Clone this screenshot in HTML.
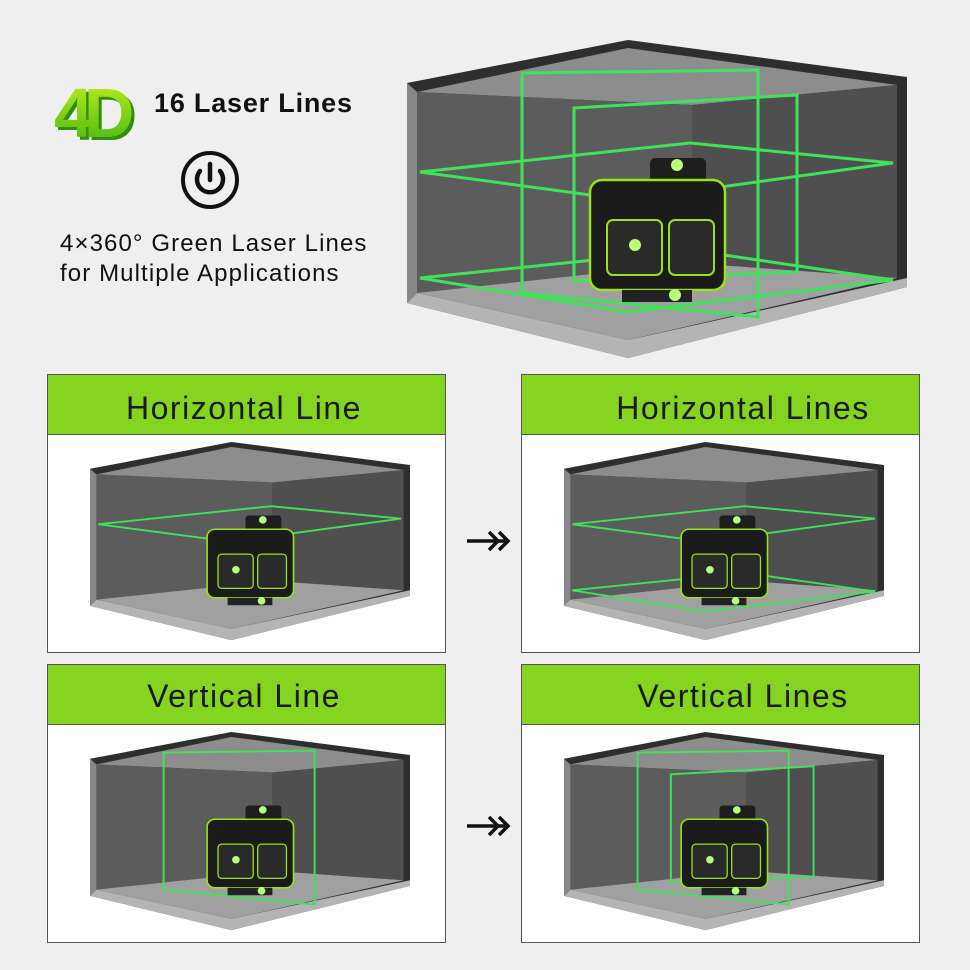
<!DOCTYPE html>
<html><head><meta charset="utf-8"><style>
html,body{margin:0;padding:0;background:#efefef;}
svg{display:block}
</style></head><body>
<svg width="970" height="970" viewBox="0 0 970 970" xmlns="http://www.w3.org/2000/svg" font-family="Liberation Sans, sans-serif">
<defs>
<linearGradient id="g4d" x1="0" y1="0" x2="0" y2="1"><stop offset="0" stop-color="#c8f020"/><stop offset="1" stop-color="#3fb40f"/></linearGradient>
<g id="room">
  <polygon points="0,43 221,0 500,37 500,247 221,318 0,263" fill="#2e2e2e"/>
  <polygon points="10,52 221,8 490,45 285,65" fill="#8d8d8d"/>
  <polygon points="10,52 285,65 285,223 10,253" fill="#5c5c5c"/>
  <polygon points="285,65 490,45 490,238 285,223" fill="#4f4f4f"/>
  <polygon points="10,253 285,223 490,238 221,300" fill="#a0a0a0"/>
  <polygon points="0,263 221,318 500,247 500,238 221,300 10,253" fill="#b4b4b4"/>
  <polygon points="0,43 10,52 10,253 0,263" fill="#888"/>
</g>
<g id="dev">
  <rect x="243" y="118" width="56" height="30" rx="5" fill="#1e1e1e"/>
  <rect x="183" y="140" width="135" height="110" rx="12" fill="#1b1b1b" stroke="#9be21a" stroke-width="2.5"/>
  <rect x="200" y="180" width="55" height="55" rx="6" fill="#2a2a2a" stroke="#9be21a" stroke-width="2"/>
  <rect x="262" y="180" width="45" height="55" rx="6" fill="#2a2a2a" stroke="#9be21a" stroke-width="2"/>
  <rect x="215" y="250" width="70" height="12" fill="#222"/>
  <circle cx="270" cy="125" r="6" fill="#b6ff7a"/>
  <circle cx="228" cy="205" r="6" fill="#b6ff7a"/>
  <circle cx="268" cy="255" r="6" fill="#b6ff7a"/>
</g>
<g id="hup" fill="none" stroke="#3fe35a" stroke-width="3"><polygon points="13,132 283,103 486,123 220,160"/></g>
<g id="hlo" fill="none" stroke="#3fe35a" stroke-width="3"><polygon points="13,238 283,210 486,240 220,272"/></g>
<g id="v1" fill="none" stroke="#3fe35a" stroke-width="3"><polygon points="115,33 351,30 351,277 115,253"/></g>
<g id="v2" fill="none" stroke="#3fe35a" stroke-width="3"><polygon points="167,68 390,55 390,232 167,241"/></g>
<g id="arr" fill="none" stroke="#111" stroke-width="3.5"><line x1="0" y1="0" x2="38" y2="0"/><polyline points="22,-9 31,0 22,9"/><polyline points="32,-9 41,0 32,9"/></g>
</defs>

<!-- top left -->
<text x="57" y="140" font-size="70" font-weight="bold" fill="#2f8f0a" letter-spacing="-9">4D</text>
<text x="54" y="137" font-size="70" font-weight="bold" fill="url(#g4d)" letter-spacing="-9">4D</text>
<text x="154" y="112" font-size="27" font-weight="bold" fill="#111" letter-spacing="0.8">16 Laser Lines</text>
<circle cx="210" cy="180" r="27" fill="none" stroke="#111" stroke-width="4"/>
<path d="M200,171 A13,13 0 1 0 220,171" fill="none" stroke="#111" stroke-width="4.5" stroke-linecap="round"/>
<line x1="210" y1="164" x2="210" y2="180" stroke="#111" stroke-width="4.5" stroke-linecap="round"/>
<text x="60" y="251" font-size="24" fill="#111" letter-spacing="1.1">4×360° Green Laser Lines</text>
<text x="60" y="281" font-size="24" fill="#111" letter-spacing="1.1">for Multiple Applications</text>

<!-- big room -->
<g transform="translate(407,40)">
  <use href="#room"/><use href="#v1"/><use href="#v2"/><use href="#hup"/><use href="#hlo"/><use href="#dev"/>
</g>

<!-- panels -->
<g>
  <rect x="47.5" y="374.5" width="398" height="278" fill="#fff" stroke="#555"/>
  <rect x="47.5" y="374.5" width="398" height="60" fill="#85d41f" stroke="#555"/>
  <text x="244" y="419" font-size="32" text-anchor="middle" fill="#1a1a1a" letter-spacing="1.5">Horizontal Line</text>
  <g transform="translate(90,442) scale(0.64,0.623)"><use href="#room"/><use href="#hup"/><use href="#dev"/></g>

  <rect x="521.5" y="374.5" width="398" height="278" fill="#fff" stroke="#555"/>
  <rect x="521.5" y="374.5" width="398" height="60" fill="#85d41f" stroke="#555"/>
  <text x="743" y="419" font-size="32" text-anchor="middle" fill="#1a1a1a" letter-spacing="1.5">Horizontal Lines</text>
  <g transform="translate(564,442) scale(0.64,0.623)"><use href="#room"/><use href="#hup"/><use href="#hlo"/><use href="#dev"/></g>

  <rect x="47.5" y="664.5" width="398" height="278" fill="#fff" stroke="#555"/>
  <rect x="47.5" y="664.5" width="398" height="60" fill="#85d41f" stroke="#555"/>
  <text x="244" y="707" font-size="32" text-anchor="middle" fill="#1a1a1a" letter-spacing="1.5">Vertical Line</text>
  <g transform="translate(90,732) scale(0.64,0.623)"><use href="#room"/><use href="#v1"/><use href="#dev"/></g>

  <rect x="521.5" y="664.5" width="398" height="278" fill="#fff" stroke="#555"/>
  <rect x="521.5" y="664.5" width="398" height="60" fill="#85d41f" stroke="#555"/>
  <text x="743" y="707" font-size="32" text-anchor="middle" fill="#1a1a1a" letter-spacing="1.5">Vertical Lines</text>
  <g transform="translate(564,732) scale(0.64,0.623)"><use href="#room"/><use href="#v1"/><use href="#v2"/><use href="#dev"/></g>
</g>

<use href="#arr" transform="translate(467,541)"/>
<use href="#arr" transform="translate(467,826)"/>
</svg>
</body></html>
